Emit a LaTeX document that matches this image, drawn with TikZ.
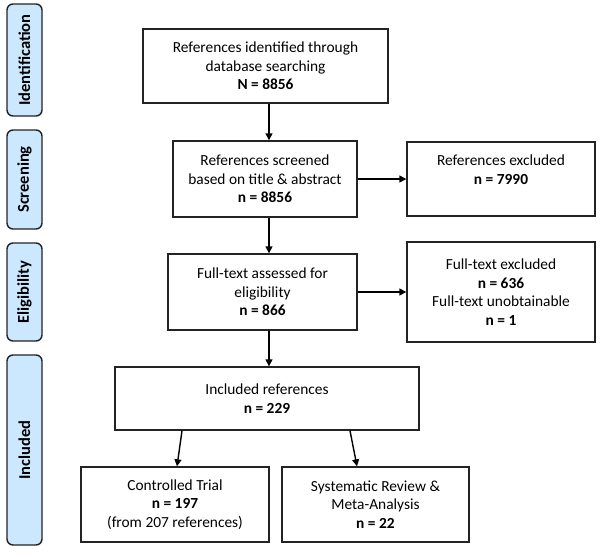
\documentclass[tikz,border=0pt]{standalone}
\usepackage{fontspec}
\setmainfont{Carlito}
\usetikzlibrary{arrows.meta}
\definecolor{stagefill}{RGB}{204,232,255}
\definecolor{linegray}{RGB}{35,35,35}
\tikzstyle{box}=[rectangle, draw=linegray, line width=1.4pt, align=center, inner sep=0pt, font=\fontsize{15.4}{18.5}\selectfont]
\tikzstyle{stage}=[rectangle, rounded corners=6pt, draw=linegray, line width=1.4pt, fill=stagefill, rotate=90, inner sep=0pt, minimum height=35pt, font=\fontsize{16.5}{20}\selectfont\bfseries]
\tikzstyle{arrow}=[-{Triangle[width=7pt,length=7pt]}, line width=1.4pt, draw=black]
\newcommand{\flowbox}{\node[box]}
\newcommand{\stagebox}{\node[stage]}

\begin{document}
\begin{tikzpicture}[x=1pt, y=-1pt]
\useasboundingbox (0,0) rectangle (600,557);
%stages
\stagebox[minimum width=112pt] (sident) at (24.5,60){Identification};
\stagebox[minimum width=99pt] (sscreen) at (24.5,179.5){Screening};
\stagebox[minimum width=98pt] (selig) at (24.5,292){Eligibility};
\stagebox[minimum width=190pt] (sincl) at (24.5,450){Included};
%boxes
\flowbox[minimum width=245pt, minimum height=74pt] (ident) at (265.5,66){References identified through\\database searching\\\textbf{N = 8856}};
\flowbox[minimum width=184pt, minimum height=76pt] (screen) at (265,179){References screened\\based on title \& abstract\\\textbf{n = 8856}};
\flowbox[minimum width=188pt, minimum height=74pt] (excl1) at (501,179){References excluded\\\textbf{n = 7990}\\\mbox{}};
\flowbox[minimum width=189pt, minimum height=76pt] (elig) at (262.5,292){Full-text assessed for\\eligibility\\\textbf{n = 866}};
\flowbox[minimum width=188pt, minimum height=100pt] (excl2) at (501,292){Full-text excluded\\\textbf{n = 636}\\Full-text unobtainable\\\textbf{n = 1}};
\flowbox[minimum width=304pt, minimum height=63pt] (incl) at (267,398.5){Included references\\\textbf{n = 229}};
\flowbox[minimum width=188pt, minimum height=75pt] (ctrl) at (175,504.5){Controlled Trial\\\textbf{n = 197}\\(from 207 references)};
\flowbox[minimum width=187pt, minimum height=75pt] (sys) at (375.5,504.5){Systematic Review \&\\Meta-Analysis\\\textbf{n = 22}};
%arrows
\coordinate (col) at (269,0);
\draw[arrow] (ident.south -| col) -- (screen.north -| col);
\draw[arrow] (screen.south -| col) -- (elig.north -| col);
\draw[arrow] (elig.south -| col) -- (incl.north -| col);
\draw[arrow] (screen.east) -- (excl1.west);
\draw[arrow] (elig.east) -- (excl2.west);
\draw[arrow] ([xshift=-85pt]incl.south) -- ([xshift=2pt]ctrl.north);
\draw[arrow] ([xshift=83pt]incl.south) -- ([xshift=-18.5pt]sys.north);
\end{tikzpicture}
\end{document}
